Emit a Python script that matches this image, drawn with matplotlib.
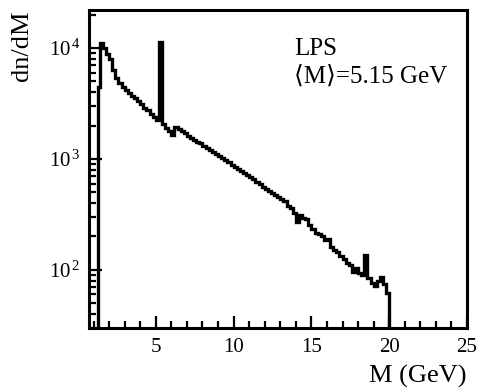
import numpy as np
import matplotlib
matplotlib.use("Agg")
import matplotlib.pyplot as plt
from matplotlib.ticker import FixedLocator, FuncFormatter, LogLocator, NullFormatter, MultipleLocator

plt.rcParams['font.family'] = ['Liberation Serif', 'DejaVu Serif']
plt.rcParams['mathtext.fontset'] = 'custom'
plt.rcParams['mathtext.rm'] = 'Liberation Serif'
plt.rcParams['mathtext.it'] = 'Liberation Serif'

# histogram: first narrow bin, then 0.2 GeV bins from 1.4 to 20.0
first_edge = 1.3
bin_start = 1.4
bin_width = 0.2
counts = [
    4500,
    11100, 10000, 8900, 7900, 6300, 5400, 4800, 4450, 4170, 3950,
    3700, 3550, 3300, 3100, 2900, 2750, 2570, 2400, 2250, 11300,
    2050, 1900, 1780, 1650, 1950, 1860, 1780, 1700, 1620, 1550,
    1480, 1430, 1380, 1320, 1260, 1200, 1150, 1110, 1060, 1020,
    980, 940, 880, 850, 810, 780, 750, 720, 690, 660,
    620, 595, 560, 540, 510, 490, 470, 455, 435, 415,
    380, 365, 325, 270, 310, 295, 290, 255, 235, 215,
    210, 200, 185, 188, 160, 150, 145, 132, 126, 115,
    110, 95, 105, 93, 89, 137, 85, 76, 72, 80,
    87, 74, 62,
]
n_bins = len(counts) - 1
edges = np.concatenate([[first_edge], bin_start + bin_width * np.arange(n_bins + 1)])

x_major = [5, 10, 15, 20, 25]
y_major = [1e2, 1e3, 1e4]

fig = plt.figure(figsize=(4.78, 3.88), dpi=100)
ax = fig.add_axes([0.186, 0.155, 0.791, 0.819])

ax.stairs(counts, edges, baseline=1, color='black', linewidth=2.4)

ax.set_yscale('log')
ax.set_xlim(0.7, 25)
ax.set_ylim(30, 22000)

ax.xaxis.set_major_locator(FixedLocator(x_major))
ax.xaxis.set_minor_locator(MultipleLocator(1))
ax.yaxis.set_major_locator(FixedLocator(y_major))
ax.yaxis.set_minor_locator(LogLocator(base=10, subs=np.arange(2, 10)))
ax.yaxis.set_minor_formatter(NullFormatter())
ax.yaxis.set_major_formatter(FuncFormatter(lambda v, p: r'$10^{\,%d}$' % int(round(np.log10(v)))))
ax.xaxis.set_major_formatter(FuncFormatter(lambda v, p: '%d' % v))

ax.tick_params(which='both', direction='in', top=False, right=False, width=1.6, labelsize=15)
ax.tick_params(which='major', length=9)
ax.tick_params(which='minor', length=5)
ax.tick_params(axis='x', pad=7)
ax.tick_params(axis='y', pad=6)

for s in ax.spines.values():
    s.set_linewidth(2.2)

ax.text(0.542, 0.858, 'LPS', transform=ax.transAxes, fontsize=18, ha='left', va='baseline')
ax.text(0.542, 0.770, '\u27e8M\u27e9=5.15 GeV', transform=ax.transAxes, fontsize=18, ha='left', va='baseline',
        family=['Liberation Serif', 'DejaVu Serif'])

fig.text(0.975, 0.014, 'M (GeV)', ha='right', va='baseline', fontsize=19)
fig.text(0.047, 0.974, 'dn/dM', ha='center', va='top', rotation=90, fontsize=19)

fig.savefig('out.png', dpi=100)
